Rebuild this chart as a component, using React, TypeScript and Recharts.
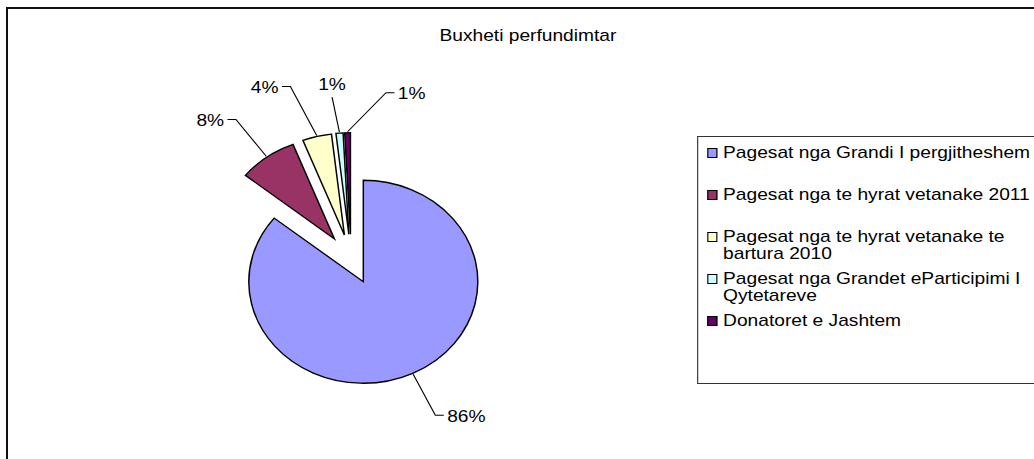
import React from 'react';
import { PieChart, Pie, Cell, Legend } from 'recharts';

const chartTitle = 'Buxheti perfundimtar';

// legend text, wrapped the way the original legend wraps it
const legendLines = [
  ['Pagesat nga Grandi I pergjitheshem'],
  ['Pagesat nga te hyrat vetanake 2011'],
  ['Pagesat nga te hyrat vetanake te', 'bartura 2010'],
  ['Pagesat nga Grandet eParticipimi I', 'Qytetareve'],
  ['Donatoret e Jashtem'],
];
const sliceNames = legendLines.map((l) => l.join(' '));
const sliceValues = [85.8, 8.3, 4.1, 1.0, 0.8];
const sliceColors = ['#9999FF', '#993366', '#FFFFCC', '#CCFFFF', '#660066'];

const data = sliceNames.map((name, i) => ({ name, value: sliceValues[i] }));

// the original picture is stretched sideways, so the whole chart is too
const SX = 1.128;
const W = 1034 / SX;
const H = 459;
const CX = 311.3;
const CY = 259.2;
const RADIUS = 101.5;
const EXPLODE = 25;
// Excel pushed the crowded labels around a bit (angle in degrees clockwise, leader radius)
const labelNudge = [0, 0, -4, -1.5, 14];
const labelRadius = [148, 148, 156, 138, 145];
const FONT = '"Liberation Sans", Arial, sans-serif';

const total = sliceValues.reduce((a, b) => a + b, 0);
const explodeOffsets = (() => {
  let acc = 0;
  return sliceValues.map((v) => {
    const mid = ((90 - (360 * (acc + v / 2)) / total) * Math.PI) / 180;
    acc += v;
    return { dx: EXPLODE * Math.cos(mid), dy: -EXPLODE * Math.sin(mid) };
  });
})();

const RAD = Math.PI / 180;

const renderLabel = (slice: number) => (props: any) => {
  if (props.index !== slice) return null;
  const { cx, cy, midAngle, outerRadius, percent } = props;
  const a = midAngle - labelNudge[slice];
  const lr = labelRadius[slice];
  const x1 = cx + (outerRadius + 1) * Math.cos(midAngle * RAD);
  const y1 = cy - (outerRadius + 1) * Math.sin(midAngle * RAD);
  const ex = cx + lr * Math.cos(a * RAD);
  const ey = cy - lr * Math.sin(a * RAD);
  const txt = `${Math.round(percent * 100)}%`;
  const c = Math.cos(a * RAD);
  if (Math.abs(c) < 0.15) {
    return (
      <g>
        <polyline points={`${x1},${y1} ${ex},${ey}`} fill="none" stroke="#000" strokeWidth={1} />
        <text x={ex} y={ey - 13} textAnchor="middle" dominantBaseline="central" fontSize={17} fontFamily={FONT} fill="#000">
          {txt}
        </text>
      </g>
    );
  }
  const dir = c > 0 ? 1 : -1;
  const hx = ex + dir * 7.5;
  return (
    <g>
      <polyline points={`${x1},${y1} ${ex},${ey} ${hx},${ey}`} fill="none" stroke="#000" strokeWidth={1} />
      <text
        x={hx + dir * 3}
        y={ey + 1}
        textAnchor={dir > 0 ? 'start' : 'end'}
        dominantBaseline="central"
        fontSize={17}
        fontFamily={FONT}
        fill="#000"
      >
        {txt}
      </text>
    </g>
  );
};

const LegendBox = () => (
  <div
    style={{
      position: 'relative',
      width: 330,
      height: 248,
      border: '1.5px solid #333',
      boxSizing: 'border-box',
      background: '#fff',
      fontFamily: FONT,
      fontSize: 17,
      color: '#000',
    }}
  >
    {legendLines.map((lines, i) => (
      <div key={i} style={{ position: 'absolute', left: 8, top: 7 + 42 * i, display: 'flex' }}>
        <span
          style={{
            width: 8.5,
            height: 9.5,
            marginTop: 4,
            marginRight: 5.5,
            background: sliceColors[i],
            border: '1px solid #000',
            boxSizing: 'border-box',
            flex: 'none',
          }}
        />
        <div style={{ lineHeight: '17px', whiteSpace: 'nowrap' }}>
          {lines.map((l, j) => (
            <div key={j}>{l}</div>
          ))}
        </div>
      </div>
    ))}
  </div>
);

const App: React.FC = () => {
  return (
    <div
      style={{
        position: 'absolute',
        left: 0,
        top: 0,
        width: 1034,
        height: 459,
        overflow: 'hidden',
        background: '#fff',
      }}
    >
      <div
        style={{
          position: 'absolute',
          left: 6,
          top: 7,
          width: 1100,
          height: 500,
          border: '2px solid #111',
          boxSizing: 'border-box',
        }}
      />
      <div
        style={{
          position: 'absolute',
          left: 0,
          top: 0,
          width: W,
          height: H,
          transform: `scaleX(${SX})`,
          transformOrigin: '0 0',
        }}
      >
        <div
          style={{
            position: 'absolute',
            left: 368,
            top: 26,
            width: 200,
            textAlign: 'center',
            fontFamily: FONT,
            fontSize: 17,
            lineHeight: '20px',
            color: '#000',
            whiteSpace: 'nowrap',
          }}
        >
          {chartTitle}
        </div>
        <PieChart width={W} height={H} margin={{ top: 0, right: 0, bottom: 0, left: 0 }}>
          {sliceValues.map((_, s) => (
            <Pie
              key={s}
              data={data}
              dataKey="value"
              nameKey="name"
              cx={CX + explodeOffsets[s].dx}
              cy={CY + explodeOffsets[s].dy}
              outerRadius={RADIUS}
              startAngle={90}
              endAngle={-270}
              stroke="none"
              label={renderLabel(s)}
              labelLine={false}
              isAnimationActive={false}
            >
              {data.map((_, i) => (
                <Cell
                  key={i}
                  fill={i === s ? sliceColors[i] : 'none'}
                  stroke={i === s ? '#000' : 'none'}
                  strokeWidth={1.3}
                />
              ))}
            </Pie>
          ))}
          <Legend
            layout="vertical"
            align="right"
            verticalAlign="top"
            content={() => <LegendBox />}
            wrapperStyle={{ left: 618, top: 136, width: 330, height: 248 }}
          />
        </PieChart>
      </div>
    </div>
  );
};

export default App;
